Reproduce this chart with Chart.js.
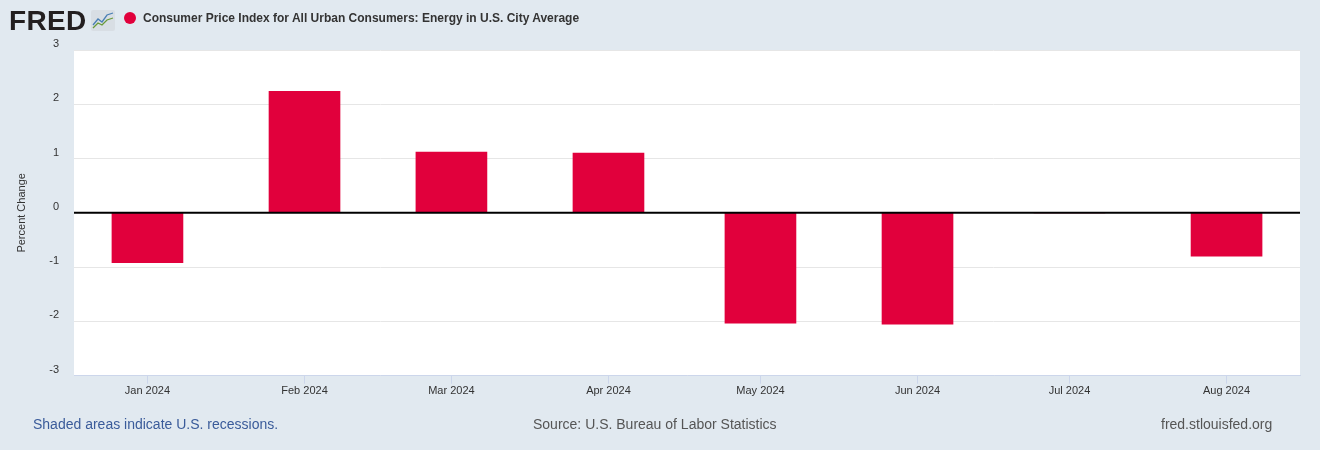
<!DOCTYPE html>
<html>
<head>
<meta charset="utf-8">
<script src="https://cdn.jsdelivr.net/npm/chart.js@4.4.1/dist/chart.umd.min.js"></script>
<style>
  body { margin: 0; background: #e1e9f0; font-family: Arial, "Liberation Sans", sans-serif; }
  #wrap { position: relative; width: 1320px; height: 450px; overflow: hidden; }
  canvas { position: absolute; left: 0; top: 0; }
  .logo { position: absolute; left: 9px; top: 5px; font-size: 28px; line-height: 32px; font-weight: 900; color: #231f20; letter-spacing: 0.3px; }
  .icon { position: absolute; left: 91px; top: 10px; }
  .dot { position: absolute; left: 124px; top: 12px; width: 12px; height: 12px; border-radius: 50%; background: #e1003c; }
  .title { position: absolute; left: 143px; top: 11px; font-size: 12px; font-weight: bold; color: #333; }
  .foot { position: absolute; top: 416px; font-size: 14px; color: #555; }
</style>
</head>
<body>
<div id="wrap">
  <canvas id="chart" width="1320" height="450"></canvas>
  <div class="logo">FRED</div>
  <svg class="icon" width="24" height="21" viewBox="0 0 24 21">
    <rect x="0" y="0" width="24" height="21" rx="2" fill="#d8dee4"/>
    <polyline points="2,15 7,9 11,12 16,5 22,3" fill="none" stroke="#4a7fb5" stroke-width="1.3"/>
    <polyline points="2,18 7,13 11,15 16,10 22,8" fill="none" stroke="#6a9a3a" stroke-width="1.3"/>
  </svg>
  <div class="dot"></div>
  <div class="title">Consumer Price Index for All Urban Consumers: Energy in U.S. City Average</div>
  <div class="foot" style="left:33px;color:#3a5b9a;">Shaded areas indicate U.S. recessions.</div>
  <div class="foot" style="left:533px;">Source: U.S. Bureau of Labor Statistics</div>
  <div class="foot" style="left:1161px;">fred.stlouisfed.org</div>
</div>
<script>
// monthly percent change, 2024
const months = ["Jan 2024", "Feb 2024", "Mar 2024", "Apr 2024", "May 2024", "Jun 2024", "Jul 2024", "Aug 2024"];
const monthNums = [0, 1, 2, 3, 4, 5, 6, 7];
const values = [-0.92, 2.24, 1.12, 1.10, -2.03, -2.05, 0.0, -0.80];
const yTicks = [-3, -2, -1, 0, 1, 2, 3];

// days since Jan 1 2024, so spacing follows month lengths
function dayOf(m) {
    return (Date.UTC(2024, m, 1) - Date.UTC(2024, 0, 1)) / 86400000;
}
const xDays = monthNums.map(dayOf);

const points = xDays.map((d, i) => ({ x: d, y: values[i] }));

const plotBg = {
    id: "plotBg",
    beforeDraw(chart) {
        const a = chart.chartArea;
        const c = chart.ctx;
        c.save();
        c.fillStyle = "#ffffff";
        c.fillRect(a.left, a.top, a.right - a.left, a.bottom - a.top);
        c.restore();
    }
};

const zeroLine = {
    id: "zeroLine",
    afterDatasetsDraw(chart) {
        const a = chart.chartArea;
        const y = chart.scales.y.getPixelForValue(0);
        const c = chart.ctx;
        c.save();
        c.strokeStyle = "#000000";
        c.lineWidth = 2;
        c.beginPath();
        c.moveTo(a.left, y);
        c.lineTo(a.right, y);
        c.stroke();
        c.restore();
    }
};

new Chart(document.getElementById("chart"), {
    type: "bar",
    data: {
        datasets: [{
            data: points,
            backgroundColor: "#e1003c",
            barThickness: 71
        }]
    },
    options: {
        responsive: false,
        animation: false,
        layout: { padding: { top: 50, right: 20, bottom: 0, left: 0 } },
        plugins: { legend: { display: false }, tooltip: { enabled: false } },
        scales: {
            x: {
                type: "linear",
                min: -14.5,
                max: 227.5,
                offset: false,
                afterFit: s => { s.height = 74.3; },
                afterBuildTicks: s => { s.ticks = xDays.map(v => ({ value: v })); },
                grid: { offset: false, drawOnChartArea: false, drawTicks: true, tickLength: 8, tickColor: "#ccd6eb" },
                border: { color: "#ccd6eb", width: 1 },
                ticks: {
                    padding: 1,
                    maxRotation: 0,
                    autoSkip: false,
                    color: "#333",
                    font: { family: "Arial, 'Liberation Sans'", size: 11 },
                    callback: v => months[xDays.indexOf(v)]
                }
            },
            y: {
                min: -3,
                max: 3,
                afterFit: s => { s.width = 74; },
                afterBuildTicks: s => { s.ticks = yTicks.map(v => ({ value: v })); },
                grid: { color: "#e6e6e6", drawTicks: false },
                border: { display: false },
                ticks: {
                    padding: 15,
                    labelOffset: -6,
                    color: "#333",
                    font: { family: "Arial, 'Liberation Sans'", size: 11 }
                },
                title: {
                    display: true,
                    text: "Percent Change",
                    color: "#333",
                    padding: { top: 15, bottom: 0 },
                    font: { family: "Arial, 'Liberation Sans'", size: 11 }
                }
            }
        }
    },
    plugins: [plotBg, zeroLine]
});
</script>
</body>
</html>
